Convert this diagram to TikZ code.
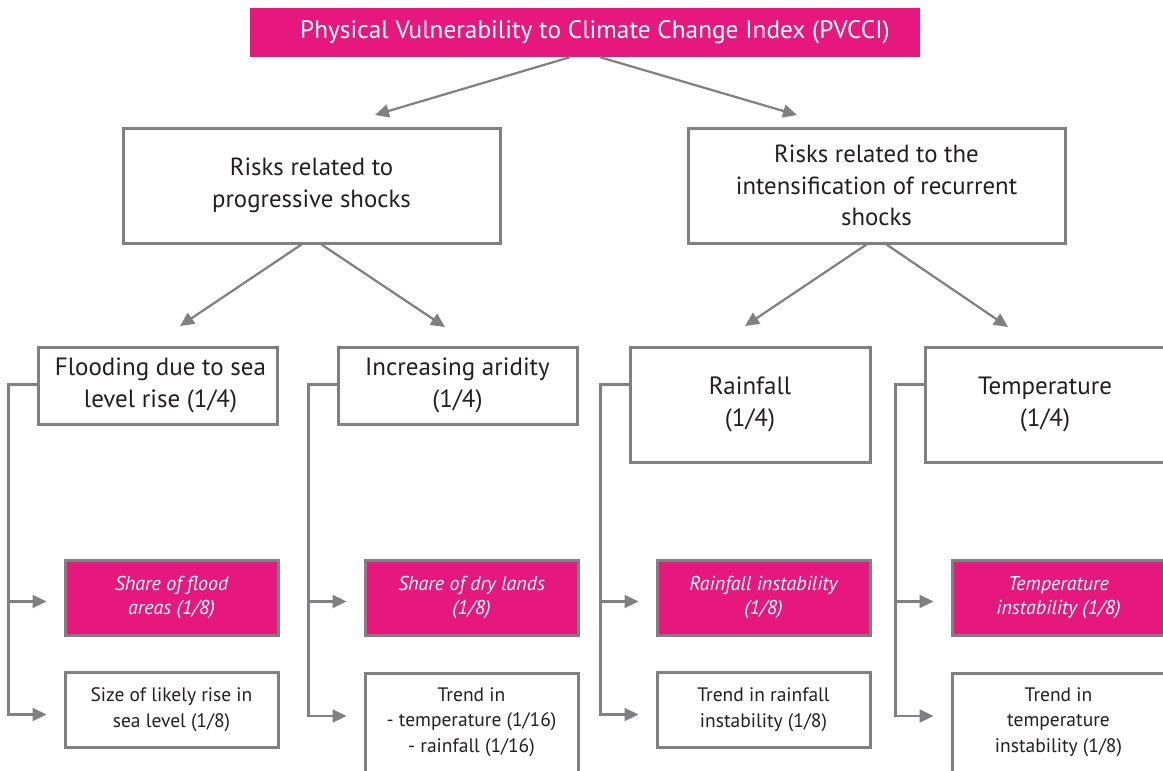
\documentclass[tikz,border=0pt]{standalone}
\usepackage{fontspec}
\setmainfont{PT Sans}
\usetikzlibrary{arrows.meta}
\definecolor{pvpink}{RGB}{230,24,125}
\definecolor{pvgray}{RGB}{128,128,130}
\definecolor{pvline}{RGB}{128,128,130}
\definecolor{pvtext}{RGB}{35,31,32}
\tikzset{
  box/.style={draw=pvgray, line width=3pt, rectangle, align=center, inner sep=0pt, text=pvtext},
  pinkbox/.style={box, fill=pvpink, text=white, font=\fontsize{20}{24}\selectfont\itshape},
  whitebox/.style={box, fill=white, font=\fontsize{19.5}{25.5}\selectfont},
  lvlone/.style={box, minimum width=377pt, minimum height=115pt, font=\fontsize{24.8}{31.5}\selectfont},
  lvltwo/.style={box, minimum width=239pt, font=\fontsize{25}{32}\selectfont},
  conn/.style={draw=pvline, line width=2.2pt, -{Triangle[length=14pt,width=13pt]}},
  elbow/.style={draw=pvline, line width=2.2pt, -{Triangle[length=14pt,width=13pt]}, shorten >=17pt}
}
\begin{document}
\begin{tikzpicture}[x=1pt,y=-1pt]
\clip (0,0) rectangle (1163,771);
\fill[white] (0,0) rectangle (1163,771);
% title
\node[rectangle, fill=pvpink, text=white, minimum width=670pt, minimum height=49pt, inner sep=0pt,
      font=\fontsize{25.3}{28}\selectfont] (title) at (585,32.5) {\hspace*{20pt}Physical Vulnerability to Climate Change Index (PVCCI)};
% level 1
\node[lvlone] (prog) at (311.5,185.5) {Risks related to\\progressive shocks};
\node[lvlone] (recur) at (876.5,185.5) {Risks related to the\\intensification of recurrent\\shocks};
% level 2
\node[lvltwo, minimum height=77pt] (flood) at (157.5,385.5) {\hspace*{6pt}Flooding due to sea\\\hspace*{6pt}level rise (1/4)};
\node[lvltwo, minimum height=77pt] (arid) at (457.5,385.5) {Increasing aridity\\(1/4)};
\node[lvltwo, minimum width=240pt, minimum height=115pt] (rain) at (750,404.5) {Rainfall\\(1/4)};
\node[lvltwo, minimum width=240pt, minimum height=115pt] (temp) at (1045,404.5) {Temperature\\(1/4)};
% level 3
\node[pinkbox, minimum width=213pt, minimum height=75pt] (shflood) at (171.5,597.5) {Share of flood\\areas (1/8)};
\node[pinkbox, minimum width=213pt, minimum height=75pt] (shdry) at (471.5,597.5) {Share of dry lands\\(1/8)};
\node[pinkbox, minimum width=213pt, minimum height=75pt] (raininst) at (763.5,597.5) {Rainfall instability\\(1/8)};
\node[pinkbox, minimum width=213pt, minimum height=75pt] (tempinst) at (1058.5,597.5) {Temperature\\instability (1/8)};
\node[whitebox, minimum width=213pt, minimum height=75pt] (sealvl) at (171.5,709.5) {Size of likely rise in\\sea level (1/8)};
\node[whitebox, minimum width=213pt, minimum height=110pt, anchor=north, text depth=17pt] (trendtr) at (471.5,672) {Trend in\\- temperature (1/16)\\- rainfall (1/16)};
\node[whitebox, minimum width=213pt, minimum height=75pt] (trendrain) at (763.5,709.5) {Trend in rainfall\\instability (1/8)};
\node[whitebox, minimum width=213pt, minimum height=110pt, anchor=north, text depth=17pt] (trendtemp) at (1058.5,672) {Trend in\\temperature\\instability (1/8)};
% free arrow ends
\coordinate (tl) at (375,115);
\coordinate (tr) at (797,115);
\coordinate (pl) at (180,326);
\coordinate (pr) at (445,327);
\coordinate (rl) at (745,326);
\coordinate (rr) at (1008,327);
% diagonal arrows
\draw[conn] ([xshift=-15pt]title.south) -- (tl);
\draw[conn] ([xshift=15pt]title.south) -- (tr);
\draw[conn] ([xshift=-10pt]prog.south) -- (pl);
\draw[conn] ([xshift=10pt]prog.south) -- (pr);
\draw[conn] ([xshift=-10pt]recur.south) -- (rl);
\draw[conn] ([xshift=10pt]recur.south) -- (rr);
% elbow connectors
\foreach \pn/\a/\b in {flood/shflood/sealvl, arid/shdry/trendtr, rain/raininst/trendrain, temp/tempinst/trendtemp}{
  \draw[elbow] ([yshift=-39pt]\pn.north west) -- ++(-28,0) |- ([yshift=-43pt]\a.north west);
  \draw[elbow] ([yshift=-39pt]\pn.north west) -- ++(-28,0) |- ([yshift=-44pt]\b.north west);
}
\end{tikzpicture}
\end{document}
